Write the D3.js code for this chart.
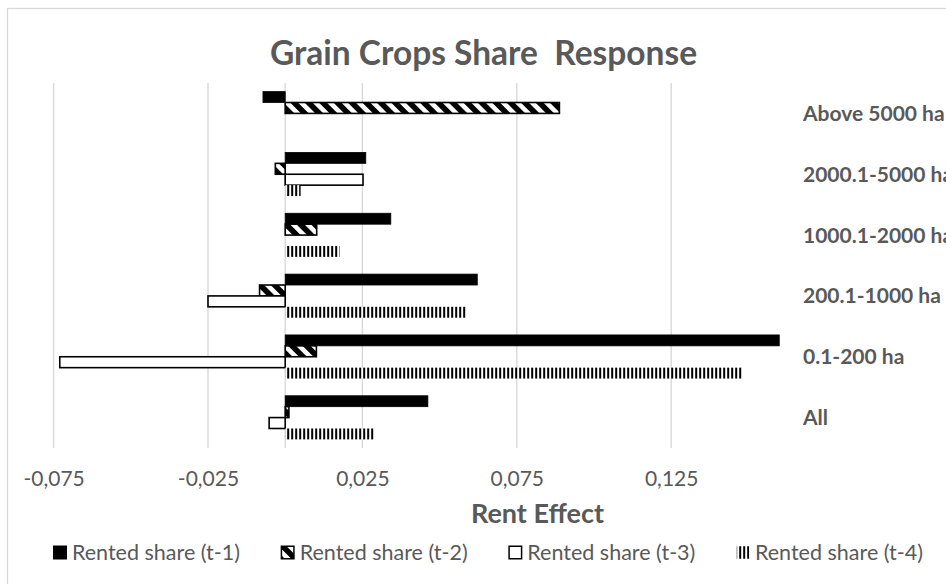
<!DOCTYPE html>
<html>
<head>
<meta charset="utf-8">
<script src="https://cdn.jsdelivr.net/npm/d3@7"></script>
<style>
  html, body { margin: 0; padding: 0; background: #fff; }
  svg { display: block; }
</style>
</head>
<body>
<script>
// Farm size groups, top to bottom
const categories = ["Above 5000 ha", "2000.1-5000 ha", "1000.1-2000 ha", "200.1-1000 ha", "0.1-200 ha", "All"];
const seriesNames = ["Rented share (t-1)", "Rented share (t-2)", "Rented share (t-3)", "Rented share (t-4)"];

// Estimated rent effects per lag (null = no bar)
const rentT1 = [-0.0072, 0.0261, 0.0342, 0.0622, 0.1600, 0.0462];
const rentT2 = [0.0888, -0.0032, 0.0102, -0.0083, 0.0101, 0.0012];
const rentT3 = [null, 0.0252, null, -0.0250, -0.0730, -0.0052];
const rentT4 = [null, 0.0050, 0.0176, 0.0587, 0.1482, 0.0290];

const tickValues = [-0.075, -0.025, 0.025, 0.075, 0.125];
const tickLabels = ["-0,075", "-0,025", "0,025", "0,075", "0,125"];

const seriesValues = [rentT1, rentT2, rentT3, rentT4];

const W = 946, H = 584;
const FONT = "Lato, 'Open Sans', sans-serif";
const TEXT = "#595959";
const GRID = "#d9d9d9";

const svg = d3.select("body").append("svg")
  .attr("width", W).attr("height", H);

// Chart frame
svg.append("rect")
  .attr("x", 7.5).attr("y", 8.5)
  .attr("width", 1100).attr("height", 700)
  .attr("fill", "#fff").attr("stroke", GRID).attr("stroke-width", 1.3);

const x = d3.scaleLinear().domain([-0.075, 0.165]).range([53.6, 794.7]);
const y = d3.scaleBand().domain(categories).range([83, 448])
  .paddingInner(0.283).paddingOuter(0.1415);
const ySub = d3.scaleBand().domain(d3.range(seriesNames.length))
  .range([0, y.bandwidth()]).padding(0);

// Fill patterns
const defs = svg.append("defs");
const hatch = defs.append("pattern")
  .attr("id", "hatch").attr("patternUnits", "userSpaceOnUse")
  .attr("width", 10.2).attr("height", 10.2)
  .attr("patternTransform", "rotate(-45)");
hatch.append("rect").attr("width", 10.2).attr("height", 10.2).attr("fill", "#fff");
hatch.append("rect").attr("width", 5.6).attr("height", 10.2).attr("fill", "#000");

const vlines = defs.append("pattern")
  .attr("id", "vlines").attr("patternUnits", "userSpaceOnUse")
  .attr("x", x(0)).attr("y", 0)
  .attr("width", 4).attr("height", 10);
vlines.append("rect").attr("width", 4).attr("height", 10).attr("fill", "#fff");
vlines.append("rect").attr("x", 2).attr("width", 2).attr("height", 10).attr("fill", "#000");

// Gridlines and zero line
const [yTop, yBot] = y.range();
svg.append("g").selectAll("line")
  .data(tickValues.concat([0]))
  .join("line")
  .attr("x1", d => x(d)).attr("x2", d => x(d))
  .attr("y1", yTop).attr("y2", yBot)
  .attr("stroke", GRID).attr("stroke-width", 1.4);

// Bars
const styles = [
  { fill: "#000", stroke: "#000", sw: 0.8 },
  { fill: "url(#hatch)", stroke: "#000", sw: 1.6 },
  { fill: "#fff", stroke: "#000", sw: 1.6 },
  { fill: "url(#vlines)", stroke: "none", sw: 0 }
];

seriesValues.forEach((vals, s) => {
  const rows = categories.map((c, i) => ({ c, v: vals[i] })).filter(d => d.v !== null);
  svg.append("g").selectAll("rect")
    .data(rows)
    .join("rect")
    .attr("x", d => Math.min(x(0), x(d.v)))
    .attr("width", d => Math.abs(x(d.v) - x(0)))
    .attr("y", d => y(d.c) + ySub(s))
    .attr("height", ySub.bandwidth())
    .attr("fill", styles[s].fill)
    .attr("stroke", styles[s].stroke)
    .attr("stroke-width", styles[s].sw);
});

// Value axis
const xAxis = svg.append("g")
  .attr("transform", `translate(0,${yBot})`)
  .call(d3.axisBottom(x).tickValues(tickValues)
    .tickFormat((d, i) => tickLabels[i]).tickSize(0));
xAxis.select(".domain").remove();
xAxis.selectAll("text")
  .attr("y", 37.7).attr("dy", null)
  .attr("fill", TEXT)
  .style("font-family", FONT).style("font-size", "21px");

// Category labels on the right
const yAxis = svg.append("g")
  .attr("transform", "translate(803,0)")
  .call(d3.axisRight(y).tickSize(0).tickPadding(0));
yAxis.select(".domain").remove();
yAxis.selectAll("text")
  .attr("fill", TEXT)
  .attr("dy", "0.36em")
  .style("font-family", FONT).style("font-size", "21px").style("font-weight", "bold");

// Title
svg.append("text")
  .attr("x", 483.5).attr("y", 64.5)
  .attr("text-anchor", "middle")
  .attr("fill", TEXT)
  .style("white-space", "pre")
  .style("font-family", FONT).style("font-size", "33.5px").style("font-weight", "bold")
  .text("Grain Crops Share  Response");

// Axis title
svg.append("text")
  .attr("x", 537.5).attr("y", 523.3)
  .attr("text-anchor", "middle")
  .attr("fill", TEXT)
  .style("font-family", FONT).style("font-size", "27px").style("font-weight", "bold")
  .text("Rent Effect");

// Legend: items spread evenly over the span below the plot
const legend = svg.append("g");
const icon = 14, iconGap = 5, legendBase = 560, legendLeft = 53, legendRight = 923;
const items = seriesNames.map((name, s) => {
  const g = legend.append("g");
  const st = styles[s];
  g.append("rect")
    .attr("x", s === 0 ? 0 : 0.75).attr("y", legendBase - icon - 0.5 + (s === 0 ? 0 : 0.75))
    .attr("width", s === 0 ? icon : icon - 1.5).attr("height", s === 0 ? icon : icon - 1.5)
    .attr("fill", st.fill)
    .attr("stroke", st.stroke)
    .attr("stroke-width", s === 0 ? 0 : 1.5);
  const t = g.append("text")
    .attr("x", icon + iconGap).attr("y", legendBase)
    .attr("fill", TEXT)
    .style("font-family", FONT).style("font-size", "21.5px")
    .text(name);
  return { g, w: icon + iconGap + t.node().getComputedTextLength() };
});
const totalW = d3.sum(items, d => d.w);
const itemGap = (legendRight - legendLeft - totalW) / (items.length - 1);
let lx = legendLeft;
items.forEach(it => {
  it.g.attr("transform", `translate(${lx},0)`);
  lx += it.w + itemGap;
});
</script>
</body>
</html>
